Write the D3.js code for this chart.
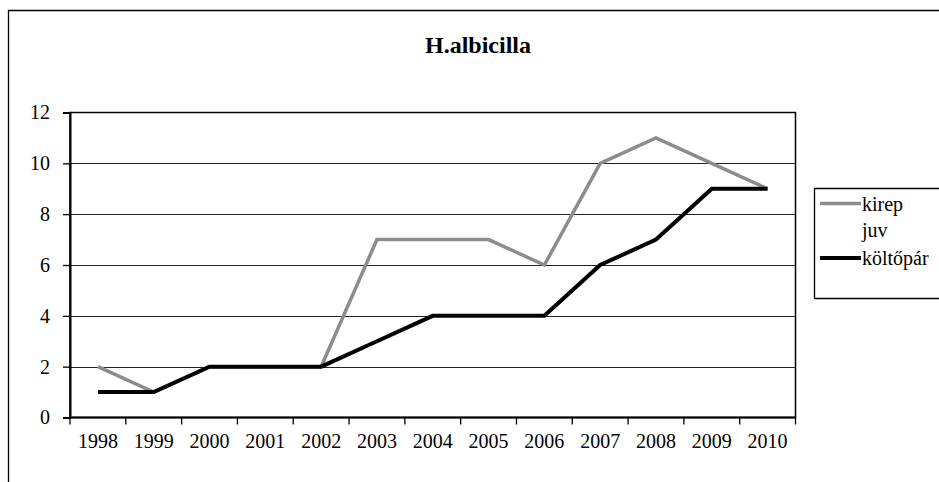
<!DOCTYPE html>
<html>
<head>
<meta charset="utf-8">
<script src="https://cdn.jsdelivr.net/npm/d3@7/dist/d3.min.js"></script>
<style>
html,body{margin:0;padding:0;background:#fff;}
</style>
</head>
<body>
<svg id="chart" width="939" height="482"></svg>
<script>
const years = ["1998","1999","2000","2001","2002","2003","2004","2005","2006","2007","2008","2009","2010"];
const kirepJuv = [2,1,2,2,2,7,7,7,6,10,11,10,9];
const koltopar = [1,1,2,2,2,3,4,4,4,6,7,9,9];
const yTicks = [0,2,4,6,8,10,12];
const title = "H.albicilla";
const seriesNames = [["kirep","juv"],["költőpár"]];

const FONT = `"Liberation Serif"`;
const svg = d3.select("#chart");
const plot = {left:70, top:112.5, right:795.5, bottom:417.5};

svg.append("path").attr("d","M8.5,482 V10.5 H939").attr("fill","none").attr("stroke","#000").attr("stroke-width",1.3);

svg.append("text").attr("x",478).attr("y",53).attr("text-anchor","middle")
  .style("font-family",FONT).style("font-size","24px").style("font-weight","bold").text(title);

const x = d3.scaleBand().domain(years).range([plot.left, plot.right]).padding(0);
const y = d3.scaleLinear().domain([0,12]).range([plot.bottom, plot.top]);

svg.append("g").selectAll("line").data(yTicks.filter(v=>v>0&&v<12)).join("line")
  .attr("x1",plot.left).attr("x2",plot.right)
  .attr("y1",d=>Math.round(y(d))+0.5).attr("y2",d=>Math.round(y(d))+0.5)
  .attr("stroke","#222").attr("stroke-width",1);

svg.append("rect").attr("x",plot.left).attr("y",plot.top)
  .attr("width",plot.right-plot.left).attr("height",plot.bottom-plot.top)
  .attr("fill","none").attr("stroke","#000").attr("stroke-width",1.5);

const yAxis = d3.axisLeft(y).tickValues(yTicks).tickSize(7).tickPadding(13);
const gy = svg.append("g").attr("transform",`translate(${plot.left},0)`).call(yAxis);
gy.select(".domain").attr("stroke-width",2);
gy.selectAll(".tick line").attr("stroke-width",1.3);
gy.selectAll("text").style("font-size","20px").style("font-family",FONT).attr("fill","#000");

const gx = svg.append("g").attr("transform",`translate(0,${plot.bottom})`);
const xAxis = d3.axisBottom(x).tickSize(0).tickPadding(16);
gx.call(xAxis);
gx.select(".domain").attr("stroke-width",2).attr("d",`M${plot.left},0H${plot.right}`);
gx.selectAll("text").style("font-size","20px").style("font-family",FONT).attr("fill","#000");
const bounds = years.map(d=>x(d)).concat([x(years[years.length-1])+x.bandwidth()]);
gx.selectAll(".bt").data(bounds).join("line").attr("class","bt")
  .attr("x1",d=>d).attr("x2",d=>d).attr("y1",0).attr("y2",7)
  .attr("stroke","#000").attr("stroke-width",1.3);

const line = d3.line().x((d,i)=>x(years[i])+x.bandwidth()/2).y(d=>y(d));
svg.append("path").datum(kirepJuv).attr("d",line).attr("fill","none")
  .attr("stroke","#8c8c8c").attr("stroke-width",3.5).attr("stroke-linejoin","miter");
svg.append("path").datum(koltopar).attr("d",line).attr("fill","none")
  .attr("stroke","#000").attr("stroke-width",4).attr("stroke-linejoin","miter");

const lg = svg.append("g");
lg.append("path").attr("d","M814.5,298.5 V188.5 H939 M814.5,298.5 H939").attr("fill","none").attr("stroke","#000").attr("stroke-width",1.3);
const colors = ["#8c8c8c","#000"];
const lineY = [203.5, 258];
seriesNames.forEach((names,i)=>{
  lg.append("line").attr("x1",820).attr("x2",861).attr("y1",lineY[i]).attr("y2",lineY[i])
    .attr("stroke",colors[i]).attr("stroke-width",i===0?3.5:4);
  names.forEach((t,j)=>{
    lg.append("text").attr("x",862).attr("y",lineY[i]+7+j*26)
      .style("font-family",FONT).style("font-size","20px").text(t);
  });
});
</script>
</body>
</html>
